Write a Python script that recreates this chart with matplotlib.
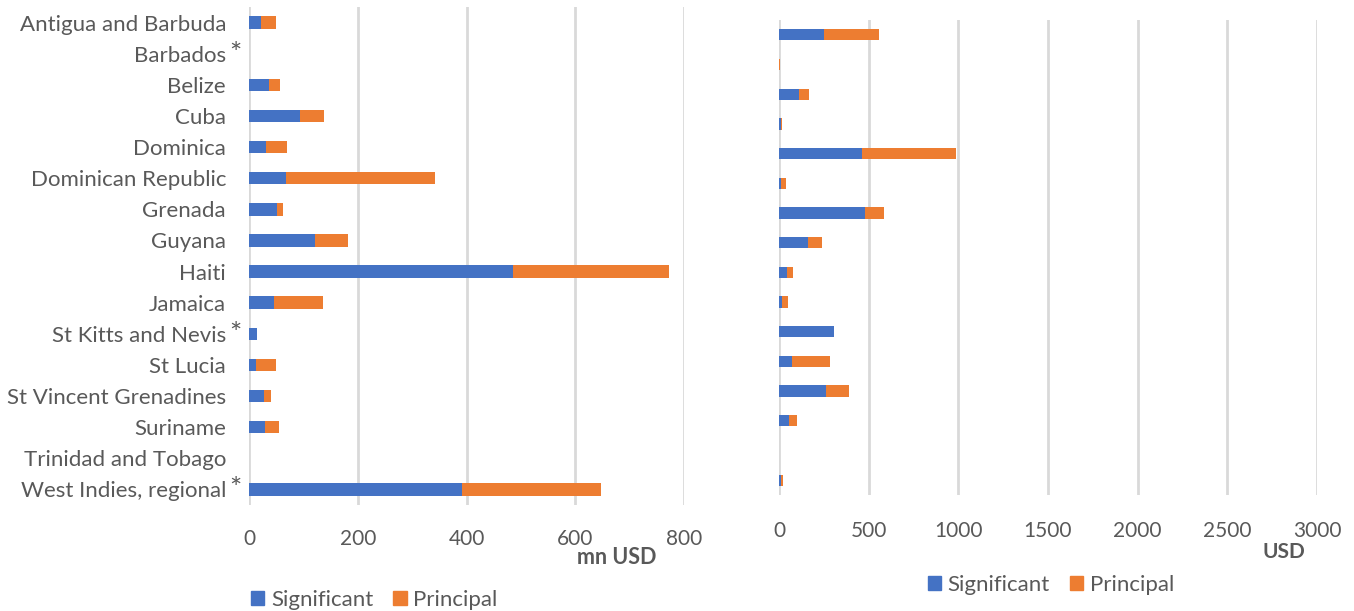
import matplotlib
matplotlib.use("Agg")
import matplotlib.pyplot as plt
from matplotlib.patches import Patch

plt.rcParams['font.family'] = ['Lato', 'DejaVu Sans']

countries = ["Antigua and Barbuda", "Barbados", "Belize", "Cuba", "Dominica",
             "Dominican Republic", "Grenada", "Guyana", "Haiti", "Jamaica",
             "St Kitts and Nevis", "St Lucia", "St Vincent Grenadines", "Suriname",
             "Trinidad and Tobago", "West Indies, regional"]
starred = ["Barbados", "St Kitts and Nevis", "West Indies, regional"]

# Left panel: mn USD
left_significant = [22, 0, 37, 94, 31, 68, 52, 122, 486, 46, 15, 12, 27, 30, 0, 392]
left_principal   = [28, 0, 20, 44, 39, 274, 11, 60, 286, 90, 0, 37, 14, 25, 0, 256]

# Right panel: USD
right_significant = [251, 0, 111, 11, 463, 9, 479, 162, 46, 17, 306, 74, 262, 57, 0, 11]
right_principal   = [306, 4, 58, 4, 522, 28, 106, 79, 30, 35, 0, 208, 126, 45, 2, 9]

left_ticks = [0, 200, 400, 600, 800]
right_ticks = [0, 500, 1000, 1500, 2000, 2500, 3000]

BLUE = "#4472C4"
ORANGE = "#ED7D31"
GRID = "#D9D9D9"
TXT = "#595959"

fig = plt.figure(figsize=(13.54, 6.11), dpi=100)
axL = fig.add_axes([249/1354, 1-505/611, 435/1354, 498/611])
axR = fig.add_axes([779/1354, 1-495/611, 538/1354, 475/611])

ypos = list(range(len(countries)))

def style(ax, ticks, pad, fs):
    for s in ax.spines.values():
        s.set_visible(False)
    ax.set_xticks(ticks)
    ax.set_xlim(ticks[0], ticks[-1])
    ax.grid(axis='x', color=GRID, linewidth=2)
    ax.set_axisbelow(True)
    ax.tick_params(axis='x', length=0, pad=pad, colors=TXT, labelsize=fs)
    ax.set_ylim(len(countries) - 0.5, -0.5)

axL.barh(ypos, left_significant, height=0.4, color=BLUE)
axL.barh(ypos, left_principal, left=left_significant, height=0.4, color=ORANGE)
style(axL, left_ticks, 17, 15)
axL.set_yticks(ypos)
axL.set_yticklabels(countries, fontsize=16, color=TXT)
axL.tick_params(axis='y', length=0, pad=16.5)
for i, c in enumerate(countries):
    if c in starred:
        axL.annotate("*", xy=(0, i), xycoords=('axes fraction', 'data'),
                     xytext=(-20, -1), textcoords='offset pixels',
                     ha='left', va='center', fontsize=21, color=TXT)
axL.text(617/1354, 1-557/611, "mn USD", transform=fig.transFigure, ha='center',
         va='center', fontsize=15.5, fontweight='bold', color=TXT)

axR.barh(ypos, right_significant, height=0.38, color=BLUE)
axR.barh(ypos, right_principal, left=right_significant, height=0.38, color=ORANGE)
style(axR, right_ticks, 19, 15)
axR.set_yticks([])
axR.text(1284/1354, 1-552/611, "USD", transform=fig.transFigure, ha='center',
         va='center', fontsize=15, fontweight='bold', color=TXT)

handles = [Patch(color=BLUE, label="Significant"), Patch(color=ORANGE, label="Principal")]
fig.legend(handles=handles, loc='center left', bbox_to_anchor=(231/1354, 1-600/611),
           ncol=2, frameon=False, fontsize=16, handlelength=0.6, handleheight=0.6,
           handletextpad=0.3, columnspacing=0.9, labelcolor=TXT)
fig.legend(handles=handles, loc='center', bbox_to_anchor=(1051/1354, 1-585/611),
           ncol=2, frameon=False, fontsize=16, handlelength=0.6, handleheight=0.6,
           handletextpad=0.3, columnspacing=0.9, labelcolor=TXT)

fig.savefig("out.png", dpi=100)
